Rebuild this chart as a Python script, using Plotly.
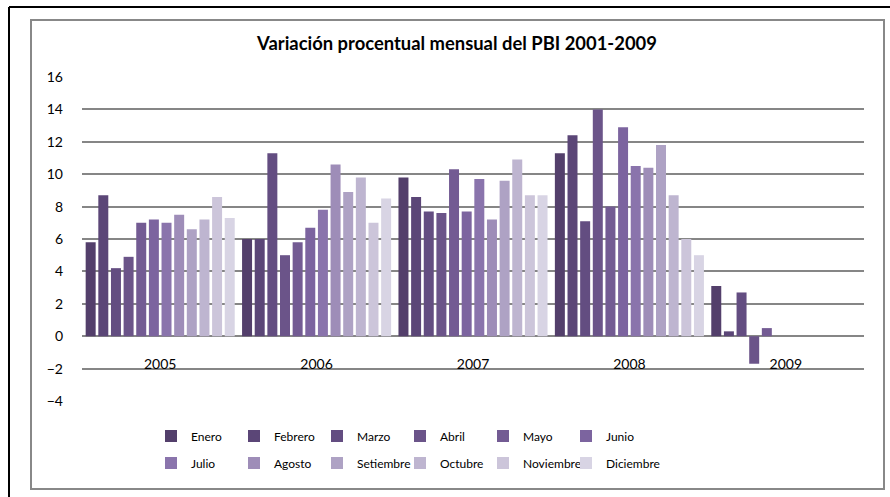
import plotly.graph_objects as go

years = ["2005", "2006", "2007", "2008", "2009"]
months = ["Enero", "Febrero", "Marzo", "Abril", "Mayo", "Junio",
          "Julio", "Agosto", "Setiembre", "Octubre", "Noviembre", "Diciembre"]

v2005 = [5.8, 8.7, 4.2, 4.9, 7.0, 7.2, 7.0, 7.5, 6.6, 7.2, 8.6, 7.3]
v2006 = [6.0, 6.0, 11.3, 5.0, 5.8, 6.7, 7.8, 10.6, 8.9, 9.8, 7.0, 8.5]
v2007 = [9.8, 8.6, 7.7, 7.6, 10.3, 7.7, 9.7, 7.2, 9.6, 10.9, 8.7, 8.7]
v2008 = [11.3, 12.4, 7.1, 14.0, 8.0, 12.9, 10.5, 10.4, 11.8, 8.7, 6.0, 5.0]
v2009 = [3.1, 0.3, 2.7, -1.7, 0.5, None, None, None, None, None, None, None]

colors = ["#533F6B", "#5B4677", "#634D81", "#6B5489", "#735B93", "#7C649F",
          "#8A74AC", "#9E8DB8", "#AEA2C4", "#BEB5D0", "#CCC5DA", "#D8D4E4"]

by_year = [v2005, v2006, v2007, v2008, v2009]

W, H = 890, 497
L, R, T, B = 82, 26, 77, 96
pw, ph = W - L - R, H - T - B


def px(x):
    return (x - L) / pw


def py(y):
    return (H - B - y) / ph


font = "Lato, 'Noto Sans', sans-serif"
legends = {}
fig = go.Figure()
for i, m in enumerate(months):
    key = "legend" if i == 0 else "legend%d" % (i + 1)
    fig.add_trace(go.Bar(
        x=years, y=[yr[i] for yr in by_year], name=m,
        marker=dict(color=colors[i], line=dict(width=0)),
        legend=key,
    ))
    # legend position: 6 per row, 83 px apart
    legends[key] = dict(
        x=px(151 + 83 * (i % 6)), y=py(436 + 27 * (i // 6)),
        xanchor="left", yanchor="middle", orientation="h",
        font=dict(size=12, color="#000"), bgcolor="rgba(0,0,0,0)",
    )

fig.update_layout(
    width=W, height=H,
    margin=dict(l=L, r=R, t=T, b=B),
    paper_bgcolor="white", plot_bgcolor="white",
    font=dict(family=font, size=14, color="#000"),
    title=dict(text="<b>Variación procentual mensual del PBI 2001-2009</b>",
               x=457 / W, xref="container", xanchor="center",
               y=1 - 44 / H, yref="container", yanchor="middle",
               font=dict(size=18.4, color="#000")),
    barmode="group", bargap=0.03, bargroupgap=0.21,
    showlegend=True,
    xaxis=dict(anchor="free", position=0.2, showgrid=False, showline=False,
               ticks="", ticklabelstandoff=18, tickfont=dict(size=14)),
    yaxis=dict(range=[-4, 16], dtick=2, showgrid=True, gridcolor="#868686",
               gridwidth=2, zeroline=True, zerolinecolor="#868686", zerolinewidth=2,
               showline=False, ticks="", ticklabelstandoff=18,
               tickfont=dict(size=14)),
    shapes=[
        dict(type="rect", xref="paper", yref="paper",
             x0=px(31), x1=px(884), y0=py(489), y1=py(20),
             line=dict(color="#888888", width=2), layer="below"),
        dict(type="line", xref="paper", yref="paper",
             x0=px(9), x1=px(892), y0=py(7), y1=py(7),
             line=dict(color="#000", width=2)),
        dict(type="line", xref="paper", yref="paper",
             x0=px(9), x1=px(9), y0=py(7), y1=py(499),
             line=dict(color="#000", width=2)),
    ],
    **legends,
)

fig.write_html("out.html", config={"displayModeBar": False},
               post_script="document.body.style.margin='0';")
